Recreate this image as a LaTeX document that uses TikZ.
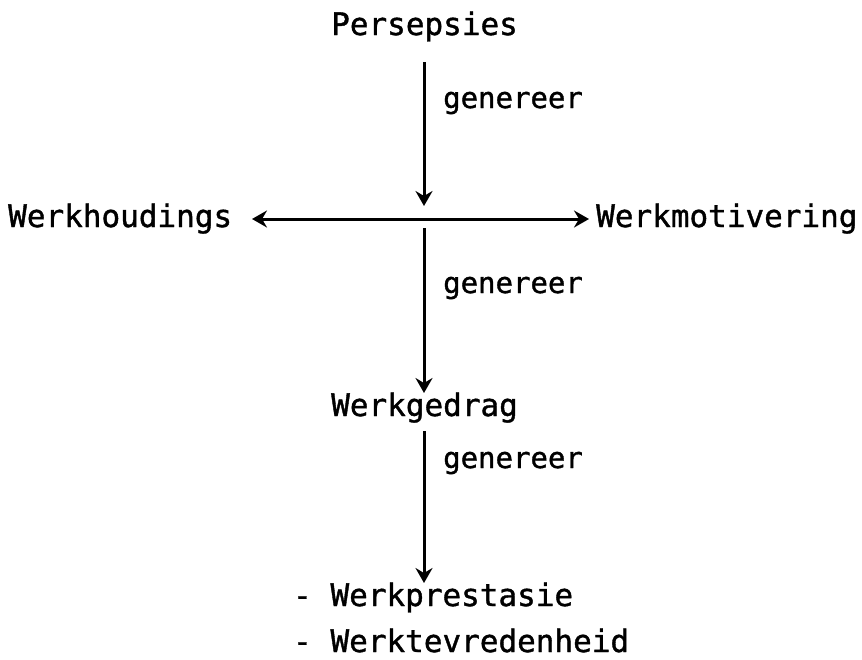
\documentclass[tikz,border=0pt]{standalone}
\usepackage{fontspec}
\setmonofont[FakeBold=1.2]{DejaVu Sans Mono}
\usetikzlibrary{arrows.meta}
\tikzset{
  lbl/.style={font=\ttfamily\fontsize{31}{31}\selectfont, inner sep=0pt, anchor=base west},
  small/.style={lbl, font=\ttfamily\fontsize{29}{29}\selectfont},
  tip/.tip={Stealth[length=15pt, width=17pt, inset=5pt]},
  flow/.style={line width=3pt, -tip},
  both/.style={line width=3pt, tip-tip}
}
\begin{document}
\begin{tikzpicture}[x=1pt, y=-1pt]
  \useasboundingbox (0,0) rectangle (862,659);

  % concepts
  \node[lbl] (pers) at (331,35) {Persepsies};
  \node[lbl] (houd) at (8,227) {Werkhoudings};
  \node[lbl] (moti) at (596,227) {Werkmotivering};
  \node[lbl] (gedr) at (331,416) {Werkgedrag};
  \node[lbl] (pres) at (293,606) {- Werkprestasie};
  \node[lbl] (tevr) at (293,652) {- Werktevredenheid};

  % arrow labels
  \node[small] (g1) at (443,108) {genereer};
  \node[small] (g2) at (443,293) {genereer};
  \node[small] (g3) at (443,468) {genereer};

  % connector end points
  \coordinate (a1s) at (424,62);
  \coordinate (a1e) at (424,206);
  \coordinate (hl) at (252,219);
  \coordinate (hr) at (589,219);
  \coordinate (a2s) at (424,228);
  \coordinate (a2e) at (424,393);
  \coordinate (a3s) at (424,431);
  \coordinate (a3e) at (424,583);

  % connectors
  \draw[flow] (a1s) -- (a1e);
  \draw[both] (hl) -- (hr);
  \draw[flow] (a2s) -- (a2e);
  \draw[flow] (a3s) -- (a3e);
\end{tikzpicture}
\end{document}
